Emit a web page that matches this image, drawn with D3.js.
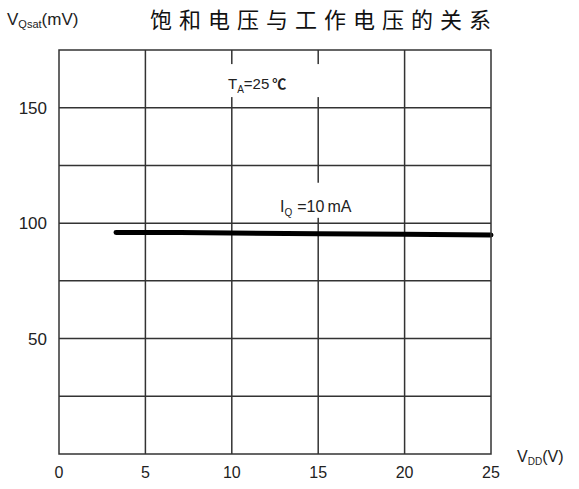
<!DOCTYPE html>
<html><head><meta charset="utf-8">
<script src="https://cdn.jsdelivr.net/npm/d3@7"></script>
<style>
html,body{margin:0;padding:0;background:#fff;}
svg{display:block;}
text{font-family:"Liberation Sans",Arial,sans-serif;fill:#222;}
</style></head>
<body>
<svg id="chart" width="579" height="489"></svg>
<script>
const title = "饱和电压与工作电压的关系";
const xTicks = [0, 5, 10, 15, 20, 25];
const yTicks = [50, 100, 150];
const yGrid = [25, 50, 75, 100, 125, 150];
const vdd = [3.3, 7, 10, 15, 20, 25];
const vqsat = [96.0, 95.9, 95.7, 95.4, 95.2, 94.9];

const svg = d3.select("#chart");
const x = d3.scaleLinear().domain([0, 25]).range([59, 491]);
const y = d3.scaleLinear().domain([0, 175]).range([454, 50]);
const gridColor = "#333";

// grid
svg.append("g").selectAll("line").data(xTicks.slice(1, -1)).join("line")
  .attr("x1", d => x(d)).attr("x2", d => x(d))
  .attr("y1", y(175)).attr("y2", y(0))
  .attr("stroke", gridColor).attr("stroke-width", 1.5);
svg.append("g").selectAll("line").data(yGrid).join("line")
  .attr("x1", x(0)).attr("x2", x(25))
  .attr("y1", d => y(d)).attr("y2", d => y(d))
  .attr("stroke", gridColor).attr("stroke-width", 1.5);

// annotation backgrounds (gaps in grid)
svg.append("rect").attr("x", 222).attr("y", y(168.9)).attr("width", 104).attr("height", y(154.6) - y(168.9)).attr("fill", "#fff");
svg.append("rect").attr("x", 272).attr("y", y(117.5)).attr("width", 96).attr("height", y(102.3) - y(117.5)).attr("fill", "#fff");

// annotations
const ta = svg.append("text").attr("x", 228).attr("y", 89).attr("font-size", 15);
ta.append("tspan").text("T");
ta.append("tspan").attr("font-size", 10).attr("dy", 4).text("A");
ta.append("tspan").attr("dy", -4).text("=25");
ta.append("tspan").attr("font-weight", "bold").attr("font-family", "'Noto Sans CJK SC'").attr("font-size", 14).attr("dx", 3).text("℃");

const iq = svg.append("text").attr("x", 280).attr("y", 212).attr("font-size", 16);
iq.append("tspan").text("I");
iq.append("tspan").attr("font-size", 10).attr("dy", 4).text("Q");
iq.append("tspan").attr("dy", -4).attr("dx", 5).text("=10");
iq.append("tspan").attr("dx", 3).text("mA");

// data line
svg.append("path").datum(vdd.map((v, i) => [v, vqsat[i]]))
  .attr("d", d3.line().x(d => x(d[0])).y(d => y(d[1])))
  .attr("fill", "none").attr("stroke", "#000").attr("stroke-width", 5)
  .attr("stroke-linecap", "round");

// border
svg.append("rect").attr("x", x(0)).attr("y", y(175))
  .attr("width", x(25) - x(0)).attr("height", y(0) - y(175))
  .attr("fill", "none").attr("stroke", gridColor).attr("stroke-width", 1.5);

// tick labels
svg.append("g").selectAll("text").data(xTicks).join("text")
  .attr("x", d => x(d)).attr("y", 478).attr("text-anchor", "middle")
  .attr("font-size", 16).text(d => d);
svg.append("g").selectAll("text").data(yTicks).join("text")
  .attr("x", 47).attr("y", d => y(d) + 6).attr("text-anchor", "end")
  .attr("font-size", 17).text(d => d);

// axis titles
const yt = svg.append("text").attr("x", 7).attr("y", 25).attr("font-size", 17);
yt.append("tspan").text("V");
yt.append("tspan").attr("font-size", 11).attr("dy", 3).text("Qsat");
yt.append("tspan").attr("dy", -3).text("(mV)");

const xt = svg.append("text").attr("x", 517).attr("y", 462).attr("font-size", 16);
xt.append("tspan").text("V");
xt.append("tspan").attr("font-size", 10).attr("dy", 3).text("DD");
xt.append("tspan").attr("dy", -3).text("(V)");

// title
svg.append("text").attr("x", 150).attr("y", 28)
  .attr("font-size", 22).attr("letter-spacing", 7)
  .style("fill", "#111").style("font-family", "'Noto Sans CJK SC'")
  .text(title);
</script>
</body></html>
